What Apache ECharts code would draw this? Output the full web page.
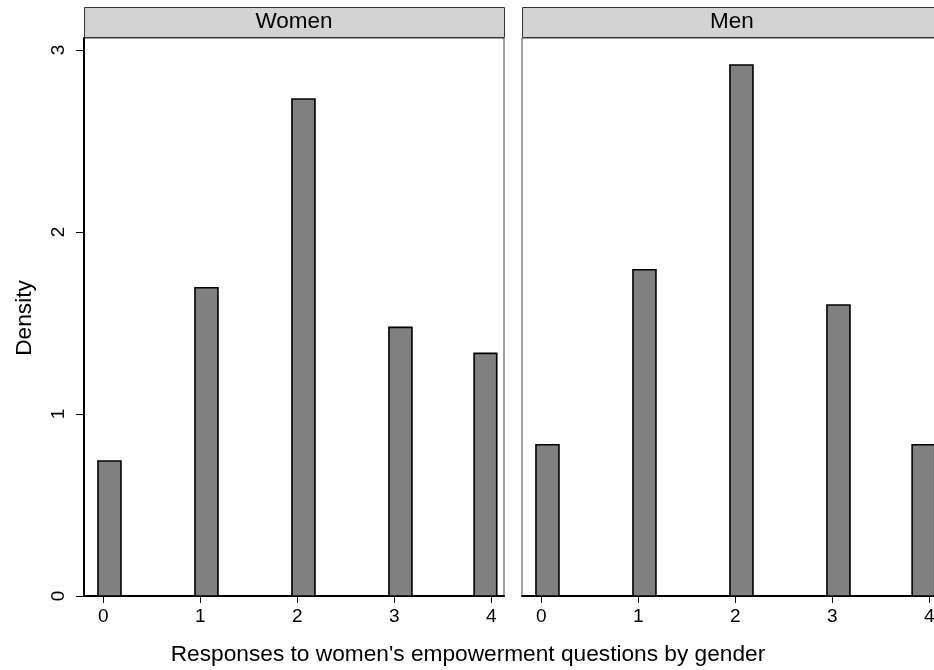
<!DOCTYPE html>
<html>
<head>
<meta charset="utf-8">
<script src="https://cdn.jsdelivr.net/npm/echarts@6/dist/echarts.min.js"></script>
<style>
html,body{margin:0;padding:0;background:#fff;}
#chart{width:934px;height:670px;}
</style>
</head>
<body>
<div id="chart"></div>
<script>
// ---- data ----
const panels = ['Women', 'Men'];
const responses = [0, 1, 2, 3, 4];
const binLower = [-0.056, 0.944, 1.944, 2.944, 3.822];
const binUpper = [0.181, 1.181, 2.181, 3.181, 4.055];
const womenDensity = [0.742, 1.694, 2.731, 1.476, 1.333];
const menDensity = [0.831, 1.793, 2.918, 1.599, 0.831];
const xTicks = [0, 1, 2, 3, 4];
const yTicks = [0, 1, 2, 3];
const xTitle = "Responses to women's empowerment questions by gender";
const yTitle = 'Density';

const FONT = 'Liberation Sans, Arial, sans-serif';
const chart = echarts.init(document.getElementById('chart'), null, {renderer: 'canvas'});

function toRows(vals) {
  return vals.map((v, i) => [binLower[i], binUpper[i], v]);
}

const gridDefs = [
  {left: 84, top: 38, width: 420, height: 558},
  {left: 522, top: 38, width: 420, height: 558}
];

function renderBar(params, api) {
  const p0 = api.coord([api.value(0), api.value(2)]);
  const p1 = api.coord([api.value(1), 0]);
  return {
    type: 'rect',
    shape: {x: p0[0], y: p0[1], width: p1[0] - p0[0], height: p1[1] - p0[1]},
    style: {fill: '#808080', stroke: '#000', lineWidth: 1.6}
  };
}

const xAxes = gridDefs.map((g, i) => ({
  type: 'value', gridIndex: i, min: -0.2, max: 4.13,
  axisLine: {show: true, onZero: false, lineStyle: {color: '#000', width: 2}},
  axisTick: {show: true, length: 7, customValues: xTicks, lineStyle: {color: '#000', width: 1}},
  axisLabel: {show: true, color: '#000', fontFamily: FONT, fontSize: 19, margin: 11,
    customValues: xTicks, formatter: v => String(v)},
  splitLine: {show: false}
}));

const yAxes = gridDefs.map((g, i) => ({
  type: 'value', gridIndex: i, min: 0, max: 3.066, interval: 1,
  axisLine: {show: i === 0, onZero: false, lineStyle: {color: '#000', width: 2}},
  axisTick: {show: i === 0, length: 8, customValues: yTicks, lineStyle: {color: '#000', width: 1}},
  axisLabel: {show: i === 0, rotate: 90, color: '#000', fontFamily: FONT, fontSize: 19, margin: 16,
    customValues: yTicks, formatter: v => String(v)},
  splitLine: {show: false}
}));

const graphics = [];
gridDefs.forEach((g, i) => {
  graphics.push({
    type: 'rect', left: g.left, top: 7, z: 10,
    shape: {width: g.width, height: 30},
    style: {fill: '#d3d3d3', stroke: '#333', lineWidth: 1}
  });
  graphics.push({
    type: 'text', z: 11,
    x: g.left + g.width / 2, y: 22,
    style: {text: panels[i], fill: '#000', font: '22.5px ' + FONT, textAlign: 'center', textVerticalAlign: 'middle'}
  });
});
graphics.push({
  type: 'text', x: 468, y: 655,
  style: {text: xTitle, fill: '#000', font: '22.7px ' + FONT, textAlign: 'center', textVerticalAlign: 'middle'}
});
graphics.push({
  type: 'text', x: 25, y: 318, rotation: Math.PI / 2,
  style: {text: yTitle, fill: '#000', font: '22.7px ' + FONT, textAlign: 'center', textVerticalAlign: 'middle'}
});

chart.setOption({
  animation: false,
  backgroundColor: '#fff',
  grid: gridDefs.map(g => Object.assign({show: true, borderColor: '#444', borderWidth: 1, backgroundColor: '#fff',
    containLabel: false, outerBoundsMode: 'none'}, g)),
  xAxis: xAxes,
  yAxis: yAxes,
  series: [
    {type: 'custom', name: panels[0], xAxisIndex: 0, yAxisIndex: 0, renderItem: renderBar,
      encode: {x: [0, 1], y: 2}, data: toRows(womenDensity)},
    {type: 'custom', name: panels[1], xAxisIndex: 1, yAxisIndex: 1, renderItem: renderBar,
      encode: {x: [0, 1], y: 2}, data: toRows(menDensity)}
  ],
  graphic: graphics
});
</script>
</body>
</html>
